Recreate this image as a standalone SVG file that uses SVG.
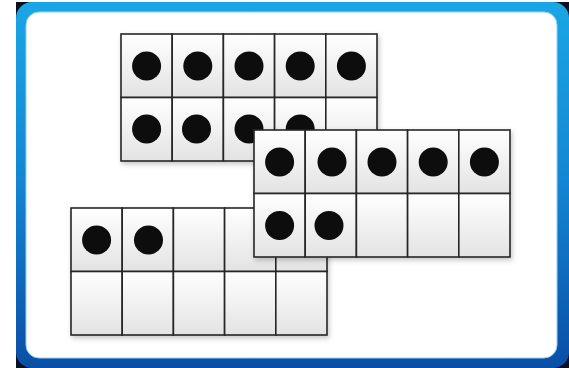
<svg xmlns="http://www.w3.org/2000/svg" width="569" height="368" viewBox="0 0 569 368">
  <defs>
    <linearGradient id="border" x1="0" y1="0" x2="0" y2="1">
      <stop offset="0" stop-color="#1aa6e4"/>
      <stop offset="0.5" stop-color="#1485d2"/>
      <stop offset="1" stop-color="#0a4ea6"/>
    </linearGradient>
    <linearGradient id="cellGrad" x1="0" y1="0" x2="0" y2="1">
      <stop offset="0" stop-color="#ffffff"/>
      <stop offset="1" stop-color="#e3e3e3"/>
    </linearGradient>
    <filter id="shadow" x="-10%" y="-10%" width="120%" height="125%">
      <feDropShadow dx="1.5" dy="2.5" stdDeviation="2.5" flood-color="#000" flood-opacity="0.22"/>
    </filter>
    <g id="frame">
      <rect class="cell" x="0" y="0" width="51.2" height="63.5"/>
      <rect class="cell" x="51.2" y="0" width="51.2" height="63.5"/>
      <rect class="cell" x="102.4" y="0" width="51.2" height="63.5"/>
      <rect class="cell" x="153.6" y="0" width="51.2" height="63.5"/>
      <rect class="cell" x="204.8" y="0" width="51.2" height="63.5"/>
      <rect class="cell" x="0" y="63.5" width="51.2" height="63.5"/>
      <rect class="cell" x="51.2" y="63.5" width="51.2" height="63.5"/>
      <rect class="cell" x="102.4" y="63.5" width="51.2" height="63.5"/>
      <rect class="cell" x="153.6" y="63.5" width="51.2" height="63.5"/>
      <rect class="cell" x="204.8" y="63.5" width="51.2" height="63.5"/>
    </g>
  </defs>
  <style>
    .cell { fill: url(#cellGrad); stroke: #262626; stroke-width: 1.6; }
    .dot { fill: #0a0a0a; }
    .tf { filter: url(#shadow); }
  </style>

  <rect x="0" y="0" width="569" height="368" fill="#ffffff"/>
  <g id="board">
    <rect x="16" y="2" width="553" height="366" fill="#0b1020"/>
    <rect x="16" y="2" width="553" height="366" rx="16" fill="url(#border)"/>
    <rect x="26" y="12" width="531" height="346" rx="13" fill="#ffffff" stroke="#8fd3f5" stroke-width="1"/>
  </g>

  <g id="frame-a" class="tf" transform="translate(121,34)">
    <use href="#frame"/>
    <circle class="dot" cx="25.6" cy="32" r="14.5"/>
    <circle class="dot" cx="76.8" cy="32" r="14.5"/>
    <circle class="dot" cx="128" cy="32" r="14.5"/>
    <circle class="dot" cx="179.2" cy="32" r="14.5"/>
    <circle class="dot" cx="230.4" cy="32" r="14.5"/>
    <circle class="dot" cx="25.6" cy="95" r="14.5"/>
    <circle class="dot" cx="75.5" cy="95" r="14.5"/>
    <circle class="dot" cx="128" cy="95" r="14.5"/>
    <circle class="dot" cx="179.2" cy="95" r="14.5"/>
  </g>

  <g id="frame-c" class="tf" transform="translate(71,208)">
    <use href="#frame"/>
    <circle class="dot" cx="25.6" cy="32" r="14.5"/>
    <circle class="dot" cx="77.5" cy="32" r="14.5"/>
  </g>

  <g id="frame-b" class="tf" transform="translate(254,130)">
    <use href="#frame"/>
    <circle class="dot" cx="25.6" cy="32" r="14.5"/>
    <circle class="dot" cx="78" cy="32" r="14.5"/>
    <circle class="dot" cx="128" cy="32" r="14.5"/>
    <circle class="dot" cx="179.2" cy="32" r="14.5"/>
    <circle class="dot" cx="230.4" cy="32" r="14.5"/>
    <circle class="dot" cx="25.6" cy="95.5" r="14.5"/>
    <circle class="dot" cx="75" cy="95.5" r="14.5"/>
  </g>
</svg>
